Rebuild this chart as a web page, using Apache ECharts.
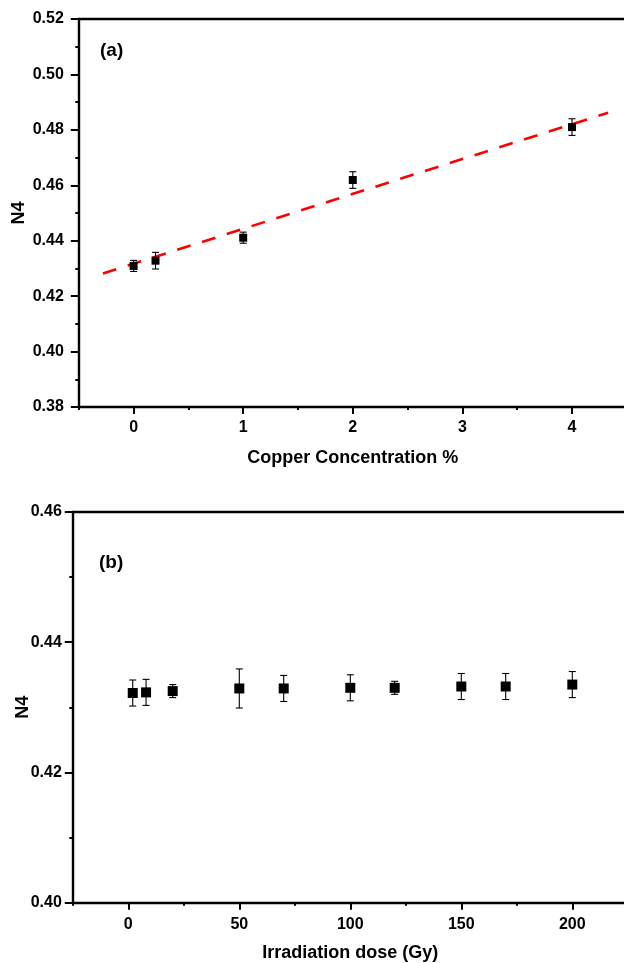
<!DOCTYPE html>
<html>
<head>
<meta charset="utf-8">
<script src="https://cdn.jsdelivr.net/npm/echarts@6/dist/echarts.min.js"></script>
<style>
html,body{margin:0;padding:0;background:#fff;}
#main{width:624px;height:963px;}
</style>
</head>
<body>
<div id="main"></div>
<script>
// ---- Panel (a): Copper concentration ----
var copperX = [0, 0.2, 1, 2, 4];
var copperN4 = [0.4309, 0.4328, 0.4411, 0.4619, 0.4810];
var copperErr = [0.002, 0.003, 0.002, 0.003, 0.003];
var fitX = [-0.28, 4.33];
var fitY = [0.4282, 0.4862];
var xTicksA = [0, 1, 2, 3, 4];
var yTicksA = [0.38, 0.40, 0.42, 0.44, 0.46, 0.48, 0.50, 0.52];

// ---- Panel (b): Irradiation dose ----
var doseX = [2, 8, 20, 50, 70, 100, 120, 150, 170, 200];
var doseN4 = [0.4322, 0.4323, 0.4325, 0.4329, 0.4329, 0.4330, 0.4330, 0.4332, 0.4332, 0.4335];
var doseErr = [0.002, 0.002, 0.001, 0.003, 0.002, 0.002, 0.001, 0.002, 0.002, 0.002];
var xTicksB = [0, 50, 100, 150, 200];
var yTicksB = [0.40, 0.42, 0.44, 0.46];

var FONT = "'Liberation Sans', Arial, sans-serif";

function pts(xs, ys) { return xs.map(function (x, i) { return [x, ys[i]]; }); }
function errPts(xs, ys, es) { return xs.map(function (x, i) { return [x, ys[i] - es[i], ys[i] + es[i]]; }); }

function errorRender(params, api) {
  var x = api.value(0);
  var lo = api.coord([x, api.value(1)]);
  var hi = api.coord([x, api.value(2)]);
  var w = 3.5;
  var st = { stroke: '#000', lineWidth: 1.1 };
  return {
    type: 'group',
    children: [
      { type: 'line', shape: { x1: lo[0], y1: lo[1], x2: hi[0], y2: hi[1] }, style: st },
      { type: 'line', shape: { x1: lo[0] - w, y1: lo[1], x2: lo[0] + w, y2: lo[1] }, style: st },
      { type: 'line', shape: { x1: hi[0] - w, y1: hi[1], x2: hi[0] + w, y2: hi[1] }, style: st }
    ]
  };
}

var labelStyle = { color: '#000', fontFamily: FONT, fontWeight: 'bold', fontSize: 16 };
var nameStyle = { color: '#000', fontFamily: FONT, fontWeight: 'bold', fontSize: 18 };
var axisLine = { show: true, onZero: false, lineStyle: { color: '#000', width: 2.4 } };

// bottom axis: short ticks every half-step, labels at the listed tick values
function xAxisMain(gi, min, max, interval, ticks, margin, name, nameGap) {
  return {
    type: 'value', gridIndex: gi, min: min, max: max, interval: interval,
    name: name, nameLocation: 'middle', nameGap: nameGap, nameTextStyle: nameStyle, nameMoveOverlap: false,
    axisLine: axisLine,
    axisTick: { show: true, inside: false, length: 3, lineStyle: { color: '#000', width: 2 } },
    axisLabel: {
      margin: margin, ...labelStyle,
      formatter: function (v) {
        for (var i = 0; i < ticks.length; i++) if (Math.abs(ticks[i] - v) < 1e-9) return String(ticks[i]);
        return '';
      }
    },
    splitLine: { show: false }
  };
}
// overlay axis: longer major ticks at labelled values
function xAxisMajor(gi, min, max, ticks) {
  return {
    type: 'value', gridIndex: gi, position: 'bottom', min: min, max: max,
    axisLine: { show: false },
    axisTick: { show: true, length: 7, customValues: ticks, lineStyle: { color: '#000', width: 2 } },
    axisLabel: { show: false }, splitLine: { show: false }
  };
}
function xAxisTop(gi, min, max) {
  return {
    type: 'value', gridIndex: gi, position: 'top', min: min, max: max,
    axisLine: axisLine, axisTick: { show: false }, axisLabel: { show: false }, splitLine: { show: false }
  };
}
function yAxisMain(gi, min, max, interval, ticks, nameGap, margin) {
  return {
    type: 'value', gridIndex: gi, min: min, max: max, interval: interval,
    name: 'N4', nameLocation: 'middle', nameGap: nameGap, nameTextStyle: nameStyle, nameMoveOverlap: false,
    axisLine: axisLine,
    axisTick: { show: true, length: 8, lineStyle: { color: '#000', width: 2 } },
    minorTick: { show: true, splitNumber: 2, length: 3.5, lineStyle: { color: '#000', width: 2 } },
    axisLabel: {
      margin: margin, ...labelStyle,
      formatter: function (v) {
        for (var i = 0; i < ticks.length; i++) if (Math.abs(ticks[i] - v) < 1e-9) return ticks[i].toFixed(2);
        return '';
      }
    },
    splitLine: { show: false }
  };
}

var chart = echarts.init(document.getElementById('main'), null, { renderer: 'canvas' });
var option = {
  backgroundColor: '#fff',
  animation: false,
  grid: [
    { left: 78.8, top: 19, width: 548, height: 388, containLabel: false, outerBoundsMode: 'none' },
    { left: 72.8, top: 512, width: 555, height: 390.7, containLabel: false, outerBoundsMode: 'none' }
  ],
  xAxis: [
    xAxisMain(0, -0.5, 4.5, 0.5, xTicksA, 13, 'Copper Concentration %', 42),
    xAxisTop(0, -0.5, 4.5),
    xAxisMajor(0, -0.5, 4.5, xTicksA),
    xAxisMain(1, -25, 225, 25, xTicksB, 14, 'Irradiation dose (Gy)', 41),
    xAxisTop(1, -25, 225),
    xAxisMajor(1, -25, 225, xTicksB)
  ],
  yAxis: [
    yAxisMain(0, 0.38, 0.52, 0.02, yTicksA, 51, 15),
    yAxisMain(1, 0.40, 0.46, 0.02, yTicksB, 41, 11)
  ],
  graphic: [
    { type: 'text', left: 100, top: 41, style: { text: '(a)', fill: '#000', font: 'bold 19px ' + FONT } },
    { type: 'text', left: 99, top: 553, style: { text: '(b)', fill: '#000', font: 'bold 19px ' + FONT } }
  ],
  series: [
    {
      type: 'line', xAxisIndex: 0, yAxisIndex: 0, data: pts(fitX, fitY),
      symbol: 'none', lineStyle: { color: '#ff0000', width: 2.6, type: [14, 12] }, z: 3
    },
    {
      type: 'custom', xAxisIndex: 0, yAxisIndex: 0, data: errPts(copperX, copperN4, copperErr),
      renderItem: errorRender, z: 4
    },
    {
      type: 'scatter', xAxisIndex: 0, yAxisIndex: 0, data: pts(copperX, copperN4),
      symbol: 'rect', symbolSize: 8, itemStyle: { color: '#000', opacity: 1 }, z: 5
    },
    {
      type: 'custom', xAxisIndex: 3, yAxisIndex: 1, data: errPts(doseX, doseN4, doseErr),
      renderItem: errorRender, z: 4
    },
    {
      type: 'scatter', xAxisIndex: 3, yAxisIndex: 1, data: pts(doseX, doseN4),
      symbol: 'rect', symbolSize: 10, itemStyle: { color: '#000', opacity: 1 }, z: 5
    }
  ]
};
chart.setOption(option);
</script>
</body>
</html>
